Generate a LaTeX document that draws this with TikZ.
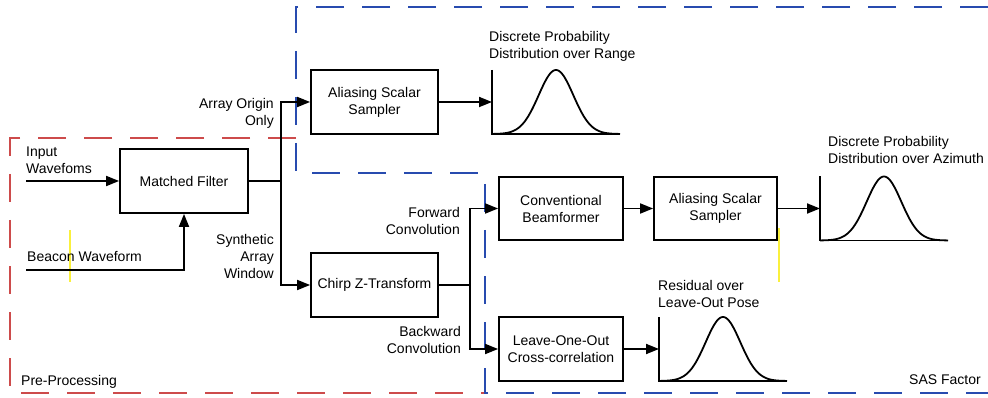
\documentclass[tikz,border=0pt]{standalone}
\usepackage{fontspec}
\setmainfont{Liberation Sans}
\usetikzlibrary{arrows.meta}
\definecolor{prered}{RGB}{205,75,75}
\definecolor{sasblue}{RGB}{40,75,175}
\definecolor{marker}{RGB}{250,240,60}
\begin{document}
\begin{tikzpicture}[x=1pt,y=-1pt,
  every node/.style={font=\fontsize{14}{17}\selectfont},
  block/.style={draw,line width=1.8pt,align=center,inner sep=0pt},
  lbl/.style={inner sep=0pt,align=left,anchor=west},
  rlbl/.style={inner sep=0pt,align=right,anchor=east},
  wire/.style={line width=1.8pt},
  arr/.style={wire,-{Triangle[length=13pt,width=10pt]}},
  region/.style={line width=1.6pt,dash pattern=on 28pt off 18pt},
  bell/.pic={
    \coordinate (-in) at (0,0);
    \draw[wire] (0,-32) -- (0,32) -- (128,32);
    \draw[wire] plot[domain=0:128,samples=100,smooth] (\x,{32-64*exp(-(\x-64)*(\x-64)/600)});
  }]
\useasboundingbox (0,0) rectangle (988,398);

% grouping regions
\draw[region,prered] (296,138) -- (10,138) -- (10,393) -- (485,393);
\draw[region,sasblue] (988,7) -- (296,7) -- (296,173) -- (485,173) -- (485,393) -- (988,393);

% highlighter marks
\draw[marker,line width=1.2pt] (70,230) -- (70,282);
\draw[marker,line width=1.2pt] (779,228) -- (779,282);

% processing blocks
\node[block,minimum width=128pt,minimum height=64pt] (mf) at (184,181) {Matched Filter};
\node[block,minimum width=127pt,minimum height=64pt] (ass1) at (374.5,102) {Aliasing Scalar\\Sampler};
\node[block,minimum width=127pt,minimum height=64pt] (czt) at (374.5,285) {Chirp Z-Transform};
\node[block,minimum width=124pt,minimum height=63pt] (cbf) at (561,208.5) {Conventional\\Beamformer};
\node[block,minimum width=123pt,minimum height=63pt] (ass2) at (715.5,208.5) {Aliasing Scalar\\Sampler};
\node[block,minimum width=124pt,minimum height=64pt] (loo) at (561,349) {Leave-One-Out\\Cross-correlation};

% distribution plots
\pic (pr) at (492,102) {bell};
\pic (pa) at (820,208.5) {bell};
\pic (pl) at (659,349) {bell};

% inputs
\coordinate (iw) at (26,181);
\coordinate (bw) at (26,270);
\node[lbl] (iwl) at (26,160) {Input\\Wavefoms};
\node[lbl] (bwl) at (27,257) {Beacon Waveform};
\draw[arr] (iw) -- (mf.west);
\draw[arr] (bw) -| (mf.south);

% branch after the matched filter
\coordinate (ja) at (281,0);
\draw[arr] (mf.east) -- (mf.east -| ja) |- (ass1.west);
\draw[arr] (mf.east -| ja) |- (czt.west);
\node[rlbl] (aol) at (274,113) {Array Origin\\Only};
\node[rlbl] (sawl) at (274,256) {Synthetic\\Array\\Window};

% branch after the chirp z-transform
\coordinate (jb) at (470,0);
\draw[arr] (czt.east) -- (czt.east -| jb) |- (cbf.west);
\draw[arr] (czt.east -| jb) |- (loo.west);
\node[rlbl] (fcl) at (460,221) {Forward\\Convolution};
\node[rlbl] (bcl) at (461,340) {Backward\\Convolution};

% outputs
\draw[arr] (ass1.east) -- (pr-in);
\draw[arr] (cbf.east) -- (ass2.west);
\draw[arr] (ass2.east) -- (pa-in);
\draw[arr] (loo.east) -- (pl-in);

% plot captions
\node[lbl] (prl) at (489,46) {Discrete Probability\\Distribution over Range};
\node[lbl] (pal) at (828,150) {Discrete Probability\\Distribution over Azimuth};
\node[lbl] (pll) at (658,294) {Residual over\\Leave-Out Pose};

% region captions
\node[lbl] (ppl) at (21,382) {Pre-Processing};
\node[rlbl] (sasl) at (981,380) {SAS Factor};
\end{tikzpicture}
\end{document}
